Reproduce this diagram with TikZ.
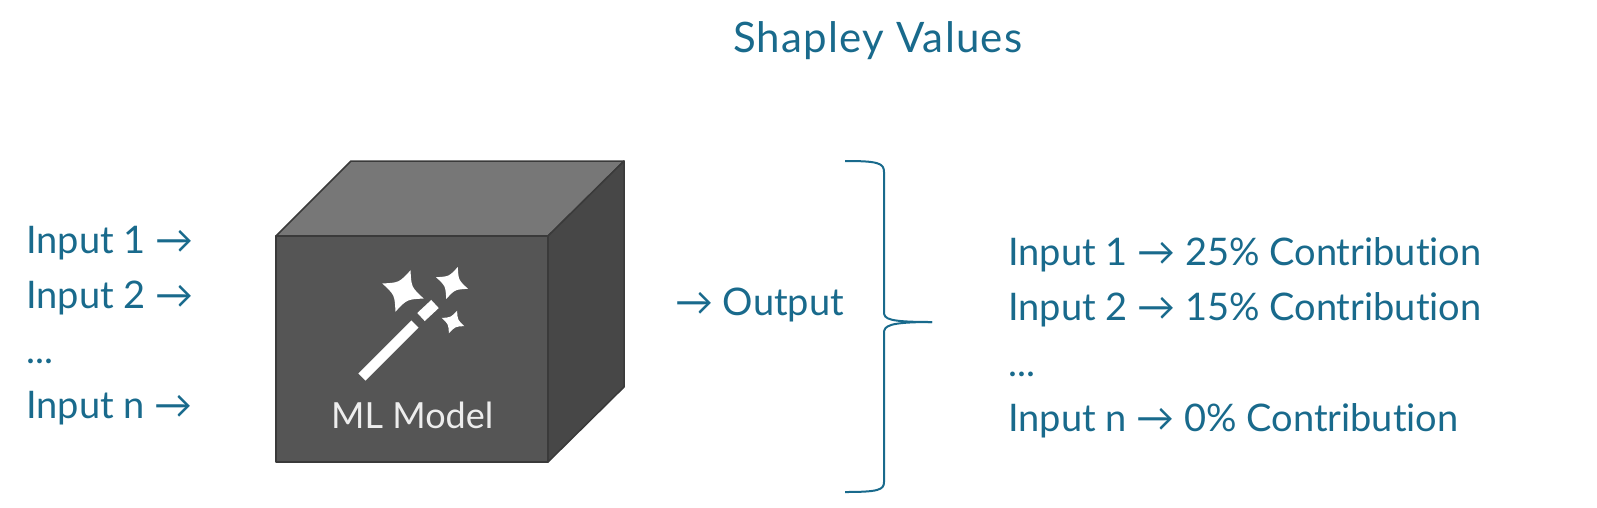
\documentclass[tikz,border=0pt]{standalone}
\usepackage{fontspec}
\setmainfont{Lato}[Ligatures=NoCommon]
\newfontfamily\titlefont{Lato}[LetterSpace=3]
\definecolor{shapblue}{HTML}{196A8C}
\definecolor{cubefront}{HTML}{555555}
\definecolor{cubetop}{HTML}{777777}
\definecolor{cubeside}{HTML}{474747}
\definecolor{cubeedge}{HTML}{3A3A3A}
\tikzset{
  lbl/.style={text=shapblue, font=\fontsize{38}{46}\selectfont, anchor=base west, inner sep=0pt},
  face/.style={draw=cubeedge, line width=1.5pt, line join=round},
  brace/.style={draw=shapblue, line width=2pt},
  wand/.style={draw=white, line width=10pt},
  pics/sparkle/.style={code={
    \fill[white] (20:1) .. controls (65:0.42) .. (110:1) .. controls (155:0.42) .. (200:1)
      .. controls (245:0.42) .. (290:1) .. controls (335:0.42) .. cycle;
  }}
}
\begin{document}
\begin{tikzpicture}[x=1pt, y=-1pt]
    \useasboundingbox (0,0) rectangle (1597,507);

    % Titolo
    \node[lbl, font=\titlefont\fontsize{42}{50}\selectfont] (title) at (733,52) {Shapley Values};

    % Input
    \node[lbl] (in1) at (26,253) {Input 1 →};
    \node[lbl] (in2) at (26,308) {Input 2 →};
    \node[lbl] (indots) at (26,363) {...};
    \node[lbl] (inn) at (26,418) {Input n →};

    % Cubo
    \coordinate (ftl) at (276,236);
    \coordinate (ftr) at (548,236);
    \coordinate (fbr) at (548,462);
    \coordinate (fbl) at (276,462);
    \coordinate (btl) at (351,161);
    \coordinate (btr) at (624,161);
    \coordinate (bbr) at (624,387);
    \filldraw[face, fill=cubetop] (ftl) -- (btl) -- (btr) -- (ftr) -- cycle;
    \filldraw[face, fill=cubeside] (ftr) -- (btr) -- (bbr) -- (fbr) -- cycle;
    \filldraw[face, fill=cubefront] (ftl) -- (ftr) -- (fbr) -- (fbl) -- cycle;

    % Bacchetta
    \draw[wand] (362,377) -- (415,324);
    \draw[wand, line width=11pt] (421,317) -- (435,304);
    \pic[scale=22] at (403,291) {sparkle};
    \pic[scale=17] at (452,283) {sparkle};
    \pic[scale=12] at (453,322) {sparkle};
    \node[font=\fontsize{36}{44}\selectfont, text=white!93!black, anchor=base west, inner sep=0pt] (model) at (331,428) {ML Model};

    % Output
    \node[lbl] (out) at (675,315) {→ Output};

    % Parentesi
    \coordinate (btop) at (845,161);
    \coordinate (btip) at (932,322);
    \coordinate (bbot) at (845,492);
    \draw[brace] (btop) .. controls (878,161) and (884,163) .. (884,172) -- (884,312) .. controls (884,319) and (888,322) .. (btip);
    \draw[brace] (btip) .. controls (888,322) and (884,326) .. (884,333) -- (884,482) .. controls (884,490) and (878,492) .. (bbot);

    % Contributi
    \node[lbl] (c1) at (1008,265) {Input 1 → 25\% Contribution};
    \node[lbl] (c2) at (1008,320) {Input 2 → 15\% Contribution};
    \node[lbl] (cdots) at (1008,376) {...};
    \node[lbl] (cn) at (1008,431) {Input n → 0\% Contribution};

\end{tikzpicture}
\end{document}
